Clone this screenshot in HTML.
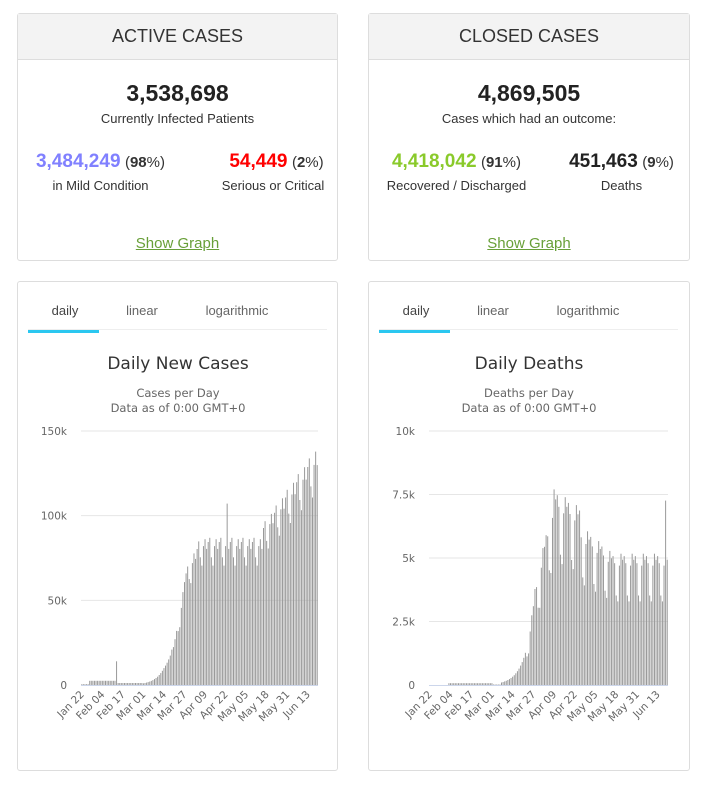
<!DOCTYPE html>
<html><head><meta charset="utf-8"><style>
body{margin:0;width:709px;height:787px;background:#fff;font-family:"Liberation Sans",Arial,sans-serif;position:relative;overflow:hidden}
.p{position:absolute;border:1px solid #ddd;border-radius:3px;background:#fff;box-sizing:border-box}
.hd{position:absolute;left:0;right:0;top:0;height:45px;background:#f3f3f3;border-bottom:1px solid #ddd;text-align:center;line-height:45px;font-size:18px;color:#333}
.a{position:absolute;text-align:center;color:#333}
.big{font-size:23px;font-weight:bold;color:#222}
.sm{font-size:13px}
.n{font-size:19px;font-weight:bold}
.link{font-size:15px;color:#689f38;text-decoration:underline}
</style></head><body>
<div class="p" style="left:17px;top:13px;width:321px;height:248px">
<div class="hd">ACTIVE CASES</div>
<div class="a big" style="left:0;right:0;top:66px">3,538,698</div>
<div class="a sm" style="left:0;right:0;top:97px">Currently Infected Patients</div>
<div class="a" style="left:0;width:165px;top:137px"><span class="n" style="color:#8080ff">3,484,249</span> <span style="font-size:15px">(<b>98</b>%)</span></div>
<div class="a sm" style="left:0;width:165px;top:164px">in Mild Condition</div>
<div class="a" style="left:172px;width:173px;top:137px"><span class="n" style="color:#f00">54,449</span> <span style="font-size:15px">(<b>2</b>%)</span></div>
<div class="a sm" style="left:190px;width:130px;top:164px">Serious or Critical</div>
<div class="a link" style="left:0;right:0;top:221px">Show Graph</div>
</div>
<div class="p" style="left:368px;top:13px;width:322px;height:248px">
<div class="hd">CLOSED CASES</div>
<div class="a big" style="left:0;right:0;top:66px">4,869,505</div>
<div class="a sm" style="left:0;right:0;top:97px">Cases which had an outcome:</div>
<div class="a" style="left:0;width:175px;top:137px"><span class="n" style="color:#8ACA2B">4,418,042</span> <span style="font-size:15px">(<b>91</b>%)</span></div>
<div class="a sm" style="left:0;width:175px;top:164px">Recovered / Discharged</div>
<div class="a" style="left:180px;width:145px;top:137px"><span class="n" style="color:#222">451,463</span> <span style="font-size:15px">(<b>9</b>%)</span></div>
<div class="a sm" style="left:180px;width:145px;top:164px">Deaths</div>
<div class="a link" style="left:0;right:0;top:221px">Show Graph</div>
</div>
<div class="p" style="left:17px;top:281px;width:321px;height:490px"></div>
<div class="p" style="left:368px;top:281px;width:322px;height:490px"></div>
<svg id="s" width="709" height="787" style="position:absolute;left:0;top:0" font-family="DejaVu Sans,sans-serif"></svg>
<script>
var s=document.getElementById('s'),h='';
function T(x,y,t,o){h+='<text x="'+x+'" y="'+y+'" '+(o||'')+'>'+t+'</text>';}
function chart(ox,x0,x1,title,sub,ymax,yl,f){
 h+='<line x1="'+(ox+11)+'" y1="329.5" x2="'+(ox+310)+'" y2="329.5" stroke="#eee"/>';
 h+='<rect x="'+(ox+11)+'" y="330" width="71" height="3" fill="#2ac7f0"/>';
 T(ox+48,315,'daily','font-family="Liberation Sans" font-size="13" fill="#444" text-anchor="middle"');
 T(ox+125,315,'linear','font-family="Liberation Sans" font-size="13" fill="#666" text-anchor="middle"');
 T(ox+220,315,'logarithmic','font-family="Liberation Sans" font-size="13" fill="#666" text-anchor="middle"');
 T(ox+161,369,title,'font-size="17" fill="#333" text-anchor="middle"');
 T(ox+161,397,sub,'font-size="11.5" fill="#666" text-anchor="middle"');
 T(ox+161,412,'Data as of 0:00 GMT+0','font-size="11.5" fill="#666" text-anchor="middle"');
 var k=yl.length-1;
 for(var i=0;i<=k;i++){var y=685-i*(254/k);
  if(i>0)h+='<line x1="'+x0+'" y1="'+y+'" x2="'+x1+'" y2="'+y+'" stroke="#e6e6e6"/>';
  T(x0-14,y+4,yl[i],'font-size="10.5" fill="#666" text-anchor="end"');}
 h+='<line x1="'+x0+'" y1="685.5" x2="'+x1+'" y2="685.5" stroke="#ccd6eb"/>';
 var n=150,st=(x1-x0)/n;
 for(var d=0;d<n;d++){var v=f(d);var bh=Math.max(0,v/ymax*254);var x=x0+d*st+0.3;
  h+='<rect x="'+x.toFixed(2)+'" y="'+(685-bh).toFixed(1)+'" width="1" height="'+bh.toFixed(1)+'" fill="#999"/>';}
 var lab=['Jan 22','Feb 04','Feb 17','Mar 01','Mar 14','Mar 27','Apr 09','Apr 22','May 05','May 18','May 31','Jun 13'];
 for(var i=0;i<lab.length;i++){var x=x0+(i*13+0.5)*st+3,y=695;T(x,y,lab[i],'font-size="10.5" fill="#666" text-anchor="end" transform="rotate(-45 '+x+' '+y+')"');}
}
function wk(d){var p=[0,0.05,-0.02,0.03,0.06,-0.08,-0.14];return 1+p[d%7];}
function cases(d){var v;
 if(d<39)v=d<5?0.5:2.5; if(d==22)v=14; if(d>22&&d<39)v=1.2;
 if(d>=39&&d<52)v=1*Math.pow(10,(d-39)/13);
 if(d>=52&&d<65)v=10*Math.pow(6,(d-52)/13);
 if(d>=65&&d<75)v=62+(d-65)*2;
 if(d>=75&&d<115)v=82;
 if(d>=115)v=90+(d-115)*1.25;
 if(d==92)v=102;
 return v*1000*(d>55?wk(d):1);}
function deaths(d){var v;
 if(d<45)v=d<12?0:(d<40?70:20);
 if(d>=45&&d<66)v=100*Math.pow(35,(d-45)/21);
 if(d>=66&&d<78)v=3500+(d-66)*280;
 if(d>=78&&d<95)v=7000-(d-78)*40;
 if(d>=95&&d<115)v=5700-(d-95)*50;
 if(d>=115)v=4700;
 if(d==148)v=6600;
 var p=[0,0.1,0.05,0.08,0.02,-0.25,-0.3];
 return v*(d>60?1+p[d%7]:1);}
chart(17,81,318,'Daily New Cases','Cases per Day',150000,['0','50k','100k','150k'],cases);
chart(368,429,668,'Daily Deaths','Deaths per Day',10000,['0','2.5k','5k','7.5k','10k'],deaths);
s.innerHTML=h;
</script>
</body></html>
